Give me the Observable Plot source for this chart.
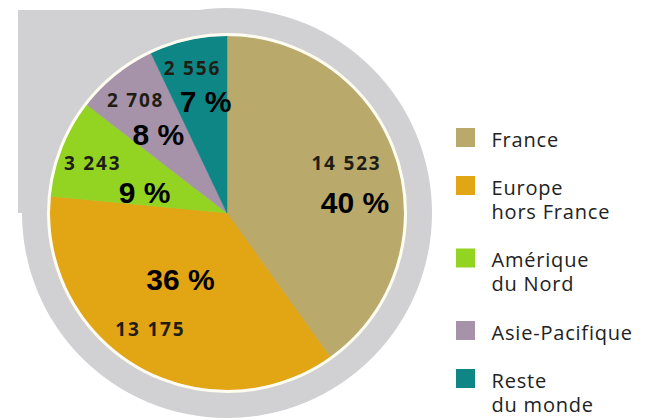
<!DOCTYPE html>
<html><head><meta charset="utf-8">
<script src="https://cdn.jsdelivr.net/npm/d3@7"></script>
<script src="https://cdn.jsdelivr.net/npm/@observablehq/plot@0.6"></script>
<style>
body{margin:0;background:#fff;}
g[aria-description="value-labels"]{letter-spacing:1.8px;}
g[aria-description="legend-labels"]{letter-spacing:0.8px;}
</style>
</head><body><div id="chart"></div>
<script>
// ---- data ----
const regions = ["France","Europe hors France","Amérique du Nord","Asie-Pacifique","Reste du monde"];
const legendLabels = ["France","Europe\nhors France","Amérique\ndu Nord","Asie-Pacifique","Reste\ndu monde"];
const values = [14523, 13175, 3243, 2708, 2556];
const valueLabels = ["14 523","13 175","3 243","2 708","2 556"];
const percentLabels = ["40 %","36 %","9 %","8 %","7 %"];
const colors = ["#b9aa6c","#e2a514","#93d423","#a693a9","#0f8686"];

// ---- layout (not data) ----
const W = 648, H = 420;
const cx = 227, cy = 213, R = 177, ringR = 205, ringLeft = 18, ringTop = 10;
const ringColor = "#d1d1d3";
const valueR = [0.728, 0.789, 0.811, 0.823, 0.843];
const valueNudge = [-4.8, 3.6, -1.5, -0.25, -0.9];
const pctR = [0.723, 0.462, 0.482, 0.589, 0.64];
const pctNudge = [13.1, 5.2, -8, -2.6, 1.5];
const legendX = 456, legendSq = 19, legendTop = 128, legendGap = 23.5, legendLineH = 24.5, legendFont = 20;

const data = regions.map((region, i) => ({region, value: values[i], i}));
const arcs = d3.pie().sort(null).value(d => d.value)(data);
const rad = Math.PI / 180;
function polar(a, r) { return [cx + r * Math.sin(a), cy - r * Math.cos(a)]; }

const valueText = arcs.map((a, i) => {
  const [x, y] = polar((a.startAngle + a.endAngle) / 2 + valueNudge[i] * rad, valueR[i] * R);
  return {x, y, text: valueLabels[i]};
});
const pctText = arcs.map((a, i) => {
  const [x, y] = polar((a.startAngle + a.endAngle) / 2 + pctNudge[i] * rad, pctR[i] * R);
  return {x, y, text: percentLabels[i]};
});

let rowTop = legendTop;
const legend = data.map((d, i) => {
  const lines = legendLabels[i].split("\n").length;
  const row = {region: d.region, label: legendLabels[i], y1: rowTop, y2: rowTop + legendSq};
  rowTop += legendGap + lines * legendLineH;
  return row;
});
// first-line baseline sits at square bottom - 1; Plot puts it at y + 0.71*lineHeight
const legendTextY = d => d.y2 - 1 - 0.71 * legendLineH;

function pieMark(index, scales) {
  const g = d3.create("svg:g");
  const X = scales.x(cx), Y = scales.y(cy);
  g.append("rect")
    .attr("x", scales.x(ringLeft)).attr("y", scales.y(ringTop))
    .attr("width", X - scales.x(ringLeft)).attr("height", Y - scales.y(ringTop))
    .attr("fill", ringColor);
  g.append("circle").attr("cx", X).attr("cy", Y).attr("r", ringR).attr("fill", ringColor);
  const arc = d3.arc().innerRadius(0).outerRadius(R);
  g.append("g").attr("transform", `translate(${X},${Y})`)
    .selectAll("path").data(arcs).join("path")
    .attr("d", arc)
    .attr("fill", d => scales.color(d.data.region))
    .attr("stroke", d => scales.color(d.data.region))
    .attr("stroke-width", 0.5);
  g.append("circle").attr("cx", X).attr("cy", Y).attr("r", R + 1.5)
    .attr("fill", "none").attr("stroke", "#fffdf0").attr("stroke-width", 3);
  return g.node();
}

const chart = Plot.plot({
  width: W, height: H,
  margin: 0,
  x: {domain: [0, W], range: [0, W], axis: null},
  y: {domain: [0, H], range: [0, H], axis: null},
  color: {domain: regions, range: colors},
  style: {background: "#fff"},
  marks: [
    pieMark,
    Plot.text(valueText, {x: "x", y: "y", text: "text", fontFamily: "Open Sans", fontWeight: 700, fontSize: 19, fill: "#1f1e15", ariaDescription: "value-labels"}),
    Plot.text(pctText, {x: "x", y: "y", text: "text", fontFamily: "Liberation Sans", fontWeight: 700, fontSize: 30, fill: "#000"}),
    Plot.rect(legend, {x1: legendX, x2: legendX + legendSq, y1: "y1", y2: "y2", fill: "region"}),
    Plot.text(legend, {x: legendX + 35, y: legendTextY, text: "label", textAnchor: "start", lineAnchor: "top", lineHeight: legendLineH / legendFont, fontFamily: "Open Sans", fontSize: legendFont, fill: "#222", ariaDescription: "legend-labels"})
  ]
});
document.getElementById("chart").append(chart);
</script>
</body></html>
